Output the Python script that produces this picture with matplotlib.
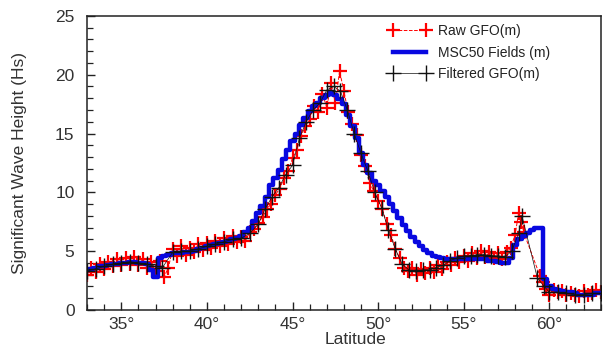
import matplotlib
matplotlib.use("Agg")
import matplotlib.pyplot as plt
from matplotlib.ticker import MultipleLocator

plt.rcParams['font.family'] = ['Liberation Sans', 'DejaVu Sans']

# MSC50 model fields (every 0.25 deg)
msc_lat = [33.00, 33.25, 33.50, 33.75, 34.00, 34.25, 34.50, 34.75, 35.00, 35.25,
           35.50, 35.75, 36.00, 36.25, 36.50, 36.75, 37.00, 37.25, 37.50, 37.75,
           38.00, 38.25, 38.50, 38.75, 39.00, 39.25, 39.50, 39.75, 40.00, 40.25,
           40.50, 40.75, 41.00, 41.25, 41.50, 41.75, 42.00, 42.25, 42.50, 42.75,
           43.00, 43.25, 43.50, 43.75, 44.00, 44.25, 44.50, 44.75, 45.00, 45.25,
           45.50, 45.75, 46.00, 46.25, 46.50, 46.75, 47.00, 47.25, 47.50, 47.75,
           48.00, 48.25, 48.50, 48.75, 49.00, 49.25, 49.50, 49.75, 50.00, 50.25,
           50.50, 50.75, 51.00, 51.25, 51.50, 51.75, 52.00, 52.25, 52.50, 52.75,
           53.00, 53.25, 53.50, 53.75, 54.00, 54.25, 54.50, 54.75, 55.00, 55.25,
           55.50, 55.75, 56.00, 56.25, 56.50, 56.75, 57.00, 57.25, 57.50, 57.75,
           58.00, 58.25, 58.50, 58.75, 59.00, 59.25, 59.50, 59.75, 60.00, 60.25,
           60.50, 60.75, 61.00, 61.25, 61.50, 61.75, 62.00, 62.25, 62.50, 62.75,
           63.00]
msc_hs = [3.4, 3.5, 3.6, 3.7, 3.7, 3.8, 3.9, 3.9, 4.0, 4.0,
          4.1, 4.1, 4.0, 4.0, 3.9, 3.4, 2.8, 4.4, 4.6, 4.7,
          4.8, 4.8, 4.8, 4.9, 4.9, 5.0, 5.2, 5.3, 5.4, 5.5,
          5.6, 5.7, 5.8, 5.9, 6.0, 6.1, 6.3, 6.6, 7.0, 7.6,
          8.2, 8.8, 9.6, 10.6, 11.2, 11.9, 12.8, 13.6, 14.4, 15.0,
          15.7, 16.3, 16.9, 17.3, 17.6, 18.0, 18.3, 18.5, 18.3, 17.9,
          17.5, 16.6, 15.6, 14.6, 13.3, 12.3, 11.6, 11.0, 10.6, 10.1,
          9.6, 9.0, 8.4, 7.8, 7.2, 6.7, 6.2, 5.8, 5.4, 5.1,
          4.8, 4.6, 4.5, 4.4, 4.3, 4.3, 4.3, 4.3, 4.3, 4.3,
          4.3, 4.3, 4.3, 4.3, 4.2, 4.2, 4.1, 4.0, 4.0, 4.4,
          5.5, 6.0, 6.3, 6.5, 6.8, 7.0, 7.0, 2.6, 2.0, 1.8,
          1.7, 1.6, 1.5, 1.5, 1.4, 1.3, 1.3, 1.3, 1.3, 1.4,
          1.4]

# Raw GFO altimeter samples
raw_lat = [33.00, 33.25, 33.50, 33.75, 34.00, 34.25, 34.50, 34.75, 35.00, 35.25,
           35.50, 35.75, 36.00, 36.25, 36.50, 36.75, 37.00, 37.25, 37.50, 37.75,
           38.00, 38.25, 38.50, 38.75, 39.00, 39.25, 39.50, 39.75, 40.00, 40.25,
           40.50, 40.75, 41.00, 41.25, 41.50, 41.75, 42.00, 42.25, 42.50, 42.75,
           43.00, 43.25, 43.50, 43.75, 44.00, 44.25, 44.50, 44.75, 45.00, 45.25,
           45.50, 45.75, 46.00, 46.25, 46.50, 46.75, 47.00, 47.25, 47.50, 47.75,
           48.00, 48.25, 48.50, 48.75, 49.00, 49.25, 49.50, 49.75, 50.00, 50.25,
           50.50, 50.75, 51.00, 51.25, 51.50, 51.75, 52.00, 52.25, 52.50, 52.75,
           53.00, 53.25, 53.50, 53.75, 54.00, 54.25, 54.50, 54.75, 55.00, 55.25,
           55.50, 55.75, 56.00, 56.25, 56.50, 56.75, 57.00, 57.25, 57.50, 57.75,
           58.00, 58.20, 58.35, 58.50, 59.45, 59.60, 59.80, 60.00, 60.25, 60.50,
           60.75, 61.00, 61.25, 61.50, 61.75, 62.00, 62.25, 62.50, 62.75, 63.00]
raw_hs = [3.0, 3.6, 3.2, 3.9, 3.5, 4.1, 3.7, 4.3, 3.8, 4.4,
          3.9, 4.5, 3.8, 4.3, 3.6, 4.1, 3.3, 4.2, 2.8, 3.6,
          5.2, 4.6, 5.4, 4.7, 5.3, 4.9, 5.6, 5.1, 5.7, 5.3,
          5.9, 5.4, 6.1, 5.6, 6.3, 5.8, 6.2, 5.9, 6.6, 6.9,
          7.4, 7.9, 8.6, 9.0, 9.8, 10.3, 11.2, 11.8, 12.9, 13.6,
          14.8, 15.6, 16.2, 17.3, 16.8, 18.4, 17.2, 19.3, 17.6, 20.3,
          18.6, 16.8, 15.8, 14.9, 13.2, 12.2, 10.8, 10.1, 9.3, 8.6,
          7.3, 6.4, 5.2, 4.4, 3.6, 3.3, 3.6, 3.0, 3.5, 3.1,
          3.6, 3.2, 3.8, 3.5, 4.1, 3.8, 4.4, 4.1, 4.6, 4.2,
          4.8, 4.4, 5.0, 4.5, 4.9, 4.4, 4.8, 4.3, 4.9, 5.3,
          6.4, 8.2, 7.5, 6.6, 2.9, 2.4, 1.8, 1.3, 1.7, 1.5,
          1.6, 1.3, 1.4, 1.3, 1.2, 1.6, 1.3, 1.4, 1.7, 1.5]

# Filtered GFO
filt_lat = [33.0, 33.5, 34.0, 34.5, 35.0, 35.5, 36.0, 36.5, 37.0, 37.4,
            38.0, 38.5, 39.0, 39.5, 40.0, 40.5, 41.0, 41.5, 42.0, 42.5,
            43.0, 43.4, 43.8, 44.2, 44.6, 45.0, 45.4, 45.8, 46.2, 46.6,
            47.0, 47.4, 47.8, 48.2, 48.6, 49.0, 49.4, 49.8, 50.2, 50.6,
            51.0, 51.4, 51.8, 52.2, 52.6, 53.0, 53.4, 53.8, 54.2, 54.6,
            55.0, 55.4, 55.8, 56.2, 56.6, 57.0, 57.4, 57.8, 58.2, 58.4,
            59.3, 59.7, 60.0, 60.5, 61.0, 61.5, 62.0, 62.5, 63.0]
filt_hs = [3.3, 3.5, 3.7, 3.9, 4.0, 4.1, 4.0, 3.9, 3.7, 3.6,
           4.9, 5.0, 5.0, 5.2, 5.4, 5.6, 5.8, 6.0, 6.1, 6.5,
           7.3, 8.6, 9.6, 10.4, 11.5, 12.3, 14.6, 16.0, 17.0, 17.6,
           18.7, 19.0, 18.6, 17.0, 15.0, 13.3, 11.8, 10.0, 8.7, 6.8,
           5.2, 3.9, 3.4, 3.3, 3.4, 3.4, 3.6, 3.8, 4.2, 4.4,
           4.6, 4.6, 4.7, 4.7, 4.6, 4.6, 4.5, 5.0, 6.5, 8.0,
           2.7, 2.0, 1.5, 1.5, 1.4, 1.3, 1.3, 1.4, 1.4]

x_ticks = [35, 40, 45, 50, 55, 60]
x_ticklabels = ["35°", "40°", "45°", "50°", "55°", "60°"]
y_ticks = [0, 5, 10, 15, 20, 25]

fig = plt.figure(figsize=(6.13, 3.53), dpi=100)
ax = fig.add_axes([0.142, 0.122, 0.838, 0.833])

ax.plot(raw_lat, raw_hs, color='#ff0000', linestyle='--', linewidth=0.7,
        marker='+', markersize=9.5, markeredgewidth=1.6, label='Raw GFO(m)', zorder=2)
ax.plot(msc_lat, msc_hs, color='#0808e0', linewidth=3.2, drawstyle='steps-mid',
        label='MSC50 Fields (m)', zorder=3)
ax.plot(filt_lat, filt_hs, color='#111111', linestyle='-', linewidth=0.5,
        marker='+', markersize=12, markeredgewidth=1.0, label='Filtered GFO(m)', zorder=4)

ax.set_xlim(33, 63)
ax.set_ylim(0, 25)
ax.set_xticks(x_ticks)
ax.set_xticklabels(x_ticklabels)
ax.set_yticks(y_ticks)
ax.xaxis.set_minor_locator(MultipleLocator(1))
ax.yaxis.set_minor_locator(MultipleLocator(1))
ax.tick_params(which='both', direction='in', top=False, right=False,
               colors='#222222', labelcolor='#333333', labelsize=12.5)
ax.tick_params(which='major', length=6, width=1.0)
ax.tick_params(which='minor', length=4, width=0.9)
ax.tick_params(axis='x', which='major', pad=5)
ax.tick_params(axis='y', which='major', pad=9)
for s in ax.spines.values():
    s.set_color('#222222')
    s.set_linewidth(1.1)

ax.set_ylabel('Significant Wave Height (Hs)', fontsize=12.5, color='#333333')
ax.yaxis.set_label_coords(-0.117, 0.5)
ax.set_xlabel('Latitude', fontsize=12.5, color='#333333')
ax.xaxis.set_label_coords(0.522, -0.075)

leg = ax.legend(loc='upper right', bbox_to_anchor=(0.925, 1.015), frameon=False,
                numpoints=2, fontsize=10, handlelength=3.0, handletextpad=0.5,
                labelspacing=0.55, labelcolor='#222222')

fig.savefig('out.png', dpi=100)
